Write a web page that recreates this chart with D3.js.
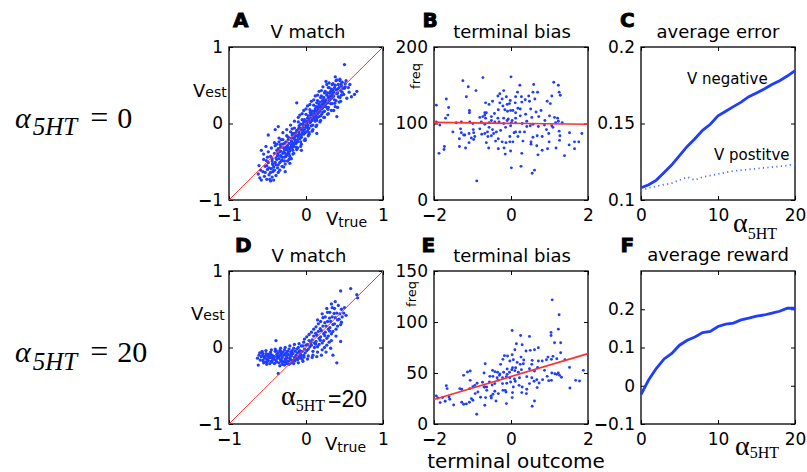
<!DOCTYPE html>
<html>
<head>
<meta charset="utf-8">
<script src="https://cdn.jsdelivr.net/npm/d3@7"></script>
<style>
body { margin: 0; background: #fff; }
svg { font-family: "DejaVu Sans", sans-serif; }
</style>
</head>
<body>
<script>
// ---- data ----
var alphaSteps = d3.range(0, 21);
var errNegative = [0.108,0.110,0.113,0.118,0.123,0.129,0.135,0.140,0.1455,0.1495,0.155,0.158,0.161,0.164,0.1675,0.170,0.1725,0.1755,0.178,0.181,0.1845];
var errPositive = [0.106,0.108,0.109,0.110,0.111,0.113,0.115,0.113,0.115,0.116,0.117,0.118,0.119,0.1195,0.120,0.1205,0.121,0.1215,0.122,0.1225,0.1235];
var avgReward = [-0.023,0.0155,0.0457,0.070,0.0845,0.106,0.119,0.1276,0.139,0.142,0.155,0.161,0.164,0.172,0.177,0.182,0.185,0.190,0.1948,0.2026,0.2026];

var vTicks = [-1, 0, 1];
var biasXTicks = [-2, 0, 2];
var biasYTicksB = [0, 100, 200];
var biasYTicksE = [0, 50, 100, 150];
var alphaTicks = [0, 10, 20];
var errTicks = [0.1, 0.15, 0.2];
var rewardTicks = [-0.1, 0, 0.1, 0.2];

var fitB = [[-2, 101.5], [2, 99]];
var fitE = [[-2, 24], [2, 69]];

// V match, alpha = 0  [Vtrue, Vest]
var matchA = [
[-0.62,-0.66],[-0.60,-0.71],[-0.58,-0.74],[-0.61,-0.55],[-0.58,-0.35],[-0.59,-0.61],
[-0.56,-0.63],[-0.55,-0.47],[-0.54,-0.69],[-0.53,-0.56],[-0.55,-0.40],[-0.52,-0.30],[-0.53,-0.64],
[-0.51,-0.73],[-0.50,-0.60],[-0.49,-0.51],[-0.50,-0.44],[-0.48,-0.67],[-0.49,-0.37],[-0.47,-0.73],[-0.51,-0.55],[-0.49,-0.15],[-0.48,-0.58],
[-0.46,-0.75],[-0.45,-0.59],[-0.44,-0.49],[-0.46,-0.43],[-0.43,-0.63],[-0.45,-0.32],[-0.44,-0.46],[-0.42,-0.74],[-0.43,-0.54],[-0.46,-0.64],[-0.41,-0.39],[-0.44,-0.70],[-0.42,-0.57],
[-0.40,-0.08],[-0.40,-0.51],[-0.39,-0.45],[-0.41,-0.61],[-0.38,-0.35],[-0.40,-0.29],[-0.37,-0.58],[-0.39,-0.68],[-0.38,-0.47],[-0.36,-0.04],[-0.41,-0.25],[-0.37,-0.42],[-0.39,-0.54],[-0.36,-0.64],[-0.38,-0.27],
[-0.35,-0.46],[-0.34,-0.37],[-0.36,-0.54],[-0.33,-0.31],[-0.35,-0.24],[-0.34,-0.61],[-0.32,-0.49],[-0.36,-0.33],[-0.33,-0.42],[-0.35,-0.19],[-0.31,-0.56],[-0.34,-0.51],[-0.32,-0.21],[-0.33,-0.36],[-0.31,-0.44],
[-0.30,-0.39],[-0.29,-0.32],[-0.31,-0.48],[-0.28,-0.26],[-0.30,-0.21],[-0.27,-0.53],[-0.29,-0.37],[-0.28,-0.44],[-0.30,-0.12],[-0.27,-0.63],[-0.26,-0.31],[-0.29,-0.57],[-0.31,-0.27],[-0.27,-0.39],[-0.26,-0.24],[-0.28,-0.49],
[-0.25,-0.34],[-0.24,-0.29],[-0.26,-0.43],[-0.23,-0.21],[-0.25,-0.16],[-0.22,-0.47],[-0.24,-0.32],[-0.23,-0.37],[-0.21,-0.52],[-0.25,-0.08],[-0.22,-0.26],[-0.24,-0.49],[-0.21,-0.34],[-0.19,-0.46],[-0.23,-0.18],[-0.22,-0.40],
[-0.20,-0.31],[-0.19,-0.23],[-0.21,-0.36],[-0.18,-0.15],[-0.20,-0.11],[-0.17,-0.40],[-0.19,-0.28],[-0.18,-0.32],[-0.16,-0.19],[-0.20,-0.02],[-0.17,-0.13],[-0.21,-0.43],[-0.16,-0.27],[-0.18,-0.07],[-0.19,-0.19],[-0.17,-0.35],
[-0.15,-0.25],[-0.14,-0.17],[-0.16,-0.30],[-0.13,-0.12],[-0.15,-0.06],[-0.12,-0.34],[-0.14,-0.22],[-0.13,-0.26],[-0.11,-0.16],[-0.15,0.03],[-0.12,-0.09],[-0.16,-0.39],[-0.12,0.27],[-0.11,-0.21],[-0.14,-0.13],[-0.13,-0.31],
[-0.10,-0.17],[-0.09,-0.11],[-0.11,-0.24],[-0.08,-0.06],[-0.10,0.02],[-0.07,-0.30],[-0.09,-0.14],[-0.08,-0.20],[-0.06,-0.08],[-0.10,0.08],[-0.07,-0.01],[-0.11,-0.32],[-0.06,-0.35],[-0.08,0.11],[-0.09,-0.03],[-0.07,-0.24],
[-0.05,-0.13],[-0.04,-0.05],[-0.06,-0.18],[-0.03,0.02],[-0.05,0.05],[-0.02,-0.22],[-0.04,-0.10],[-0.03,-0.14],[-0.01,-0.02],[-0.05,0.13],[-0.02,0.05],[-0.06,-0.27],[-0.01,-0.22],[-0.03,0.17],[-0.04,-0.01],[-0.02,-0.08],
[0.00,-0.05],[0.01,0.01],[-0.01,-0.12],[0.02,0.07],[0.00,0.12],[0.03,-0.16],[0.01,-0.04],[0.02,-0.10],[0.04,0.04],[0.00,0.19],[0.03,0.10],[-0.01,-0.20],[0.04,-0.12],[0.02,0.23],[0.01,0.03],[0.03,-0.07],
[0.05,0.01],[0.06,0.07],[0.04,-0.06],[0.07,0.13],[0.05,0.18],[0.08,-0.10],[0.06,0.02],[0.07,-0.03],[0.09,0.10],[0.05,0.25],[0.08,0.16],[0.04,-0.14],[0.14,-0.13],[0.07,0.29],[0.06,0.11],[0.08,0.04],
[0.10,0.07],[0.11,0.13],[0.09,-0.02],[0.12,0.19],[0.10,0.24],[0.13,-0.04],[0.11,0.08],[0.12,0.03],[0.14,0.16],[0.10,0.31],[0.13,0.22],[0.09,-0.08],[0.12,0.36],[0.14,0.27],[0.11,0.16],[0.13,0.10],
[0.15,0.13],[0.16,0.19],[0.14,0.04],[0.17,0.25],[0.15,0.30],[0.18,0.02],[0.16,0.14],[0.17,0.09],[0.19,0.22],[0.15,0.37],[0.18,0.28],[0.14,-0.02],[0.19,0.34],[0.17,0.42],[0.16,0.22],[0.18,0.16],
[0.20,0.19],[0.21,0.25],[0.19,0.10],[0.22,0.31],[0.20,0.36],[0.23,0.08],[0.21,0.20],[0.22,0.15],[0.24,0.28],[0.20,0.43],[0.23,0.34],[0.19,0.04],[0.24,0.40],[0.22,0.48],[0.21,0.29],[0.23,0.22],
[0.25,0.23],[0.26,0.31],[0.24,0.16],[0.27,0.37],[0.25,0.42],[0.28,0.12],[0.26,0.26],[0.27,0.21],[0.29,0.34],[0.26,0.55],[0.28,0.40],[0.24,0.08],[0.29,0.47],[0.27,0.51],[0.25,0.30],[0.28,0.27],
[0.30,0.30],[0.31,0.36],[0.29,0.21],[0.32,0.42],[0.30,0.47],[0.33,0.17],[0.31,0.31],[0.32,0.26],[0.34,0.39],[0.30,0.53],[0.33,0.45],[0.29,0.13],[0.34,0.51],[0.31,0.40],[0.33,0.33],
[0.35,0.35],[0.36,0.41],[0.34,0.26],[0.37,0.47],[0.35,0.52],[0.38,0.22],[0.36,0.36],[0.37,0.31],[0.39,0.44],[0.38,0.61],[0.38,0.50],[0.36,0.17],[0.39,0.56],[0.35,0.44],
[0.40,0.09],[0.40,0.39],[0.41,0.45],[0.39,0.30],[0.42,0.51],[0.40,0.57],[0.43,0.28],[0.41,0.40],[0.44,0.58],[0.42,0.35],[0.41,0.21],[0.43,0.47],
[0.45,0.43],[0.46,0.49],[0.44,0.34],[0.47,0.54],[0.45,0.29],[0.48,0.46],[0.46,0.37],[0.44,0.56],[0.47,0.41],
[0.50,0.77],[0.50,0.46],[0.51,0.52],[0.49,0.38],[0.52,0.56],[0.53,0.33],[0.51,0.48],
[0.55,0.47],[0.56,0.41],[0.59,0.35],[0.63,0.38],[0.66,0.42],[0.57,0.51],
[-0.435,-0.525],[-0.365,-0.395],[-0.275,-0.345],[-0.185,-0.245],[-0.095,-0.065],[0.025,-0.025],[0.115,0.045],[0.205,0.125],[0.285,0.185],[0.375,0.265],
[-0.335,-0.275],[-0.245,-0.405],[-0.155,-0.195],[-0.065,-0.155],[0.055,0.145],[0.145,0.075],[0.235,0.265],[0.325,0.355],[-0.515,-0.485],[0.455,0.515]
];

// V match, alpha = 20
var matchD = [
[-0.63,-0.14],[-0.61,-0.10],[-0.62,-0.23],[-0.60,-0.07],
[-0.58,-0.12],[-0.56,-0.17],[-0.57,-0.05],[-0.55,-0.20],[-0.56,-0.10],[-0.54,-0.14],
[-0.52,-0.08],[-0.51,-0.15],[-0.53,-0.19],[-0.50,-0.11],[-0.52,-0.04],[-0.49,-0.17],[-0.51,-0.22],[-0.50,-0.09],[-0.48,-0.13],
[-0.47,-0.13],[-0.46,-0.06],[-0.45,-0.18],[-0.44,-0.10],[-0.47,-0.21],[-0.45,-0.03],[-0.43,-0.15],[-0.46,-0.09],[-0.44,-0.19],[-0.42,-0.12],
[-0.41,-0.12],[-0.40,-0.05],[-0.39,-0.17],[-0.38,-0.09],[-0.41,-0.21],[-0.39,0.09],[-0.37,-0.14],[-0.40,-0.02],[-0.38,-0.19],[-0.36,-0.34],[-0.36,-0.07],[-0.37,-0.11],
[-0.35,-0.11],[-0.34,-0.04],[-0.33,-0.16],[-0.32,-0.08],[-0.35,-0.20],[-0.33,-0.01],[-0.31,-0.13],[-0.34,-0.24],[-0.32,-0.18],[-0.30,-0.06],[-0.31,-0.22],[-0.33,-0.10],
[-0.29,-0.10],[-0.28,-0.03],[-0.27,-0.15],[-0.26,-0.07],[-0.29,-0.19],[-0.27,0.00],[-0.25,-0.12],[-0.28,-0.23],[-0.26,-0.17],[-0.24,-0.05],[-0.25,-0.21],[-0.27,-0.09],
[-0.23,-0.09],[-0.22,-0.02],[-0.21,-0.14],[-0.20,-0.06],[-0.23,-0.18],[-0.21,0.02],[-0.19,-0.11],[-0.22,-0.22],[-0.20,-0.16],[-0.18,-0.04],[-0.19,-0.20],
[-0.17,-0.08],[-0.16,-0.01],[-0.15,-0.13],[-0.14,-0.05],[-0.17,-0.17],[-0.15,0.04],[-0.13,-0.10],[-0.16,-0.21],[-0.14,-0.15],[-0.12,-0.02],
[-0.11,-0.07],[-0.10,0.00],[-0.09,-0.12],[-0.08,-0.04],[-0.11,-0.16],[-0.09,0.05],[-0.07,-0.09],[-0.10,-0.20],[-0.08,-0.14],[-0.06,0.02],
[-0.05,-0.05],[-0.04,0.02],[-0.03,-0.10],[-0.02,-0.02],[-0.05,-0.15],[-0.03,0.07],[-0.01,-0.07],[-0.04,-0.18],[-0.02,0.11],[0.00,0.03],
[-0.595,-0.165],[-0.535,-0.115],[-0.475,-0.085],[-0.415,-0.155],[-0.355,-0.135],[-0.305,-0.175],[-0.245,-0.135],[-0.185,-0.075],[-0.125,-0.135],[-0.065,-0.115],
[-0.565,-0.075],[-0.505,-0.185],[-0.445,-0.135],[-0.385,-0.045],[-0.325,-0.055],[-0.265,-0.195],[-0.205,-0.105],[-0.145,-0.175],[-0.085,-0.055],[-0.025,-0.125],
[0.01,-0.04],[0.02,0.04],[0.03,-0.11],[0.04,0.09],[0.01,0.14],[0.03,-0.02],[0.05,0.01],[0.02,-0.15],[0.04,0.17],
[0.07,0.03],[0.08,0.10],[0.09,-0.05],[0.10,0.15],[0.07,0.20],[0.09,-0.10],[0.11,0.06],[0.08,-0.13],[0.10,0.24],[0.11,0.00],
[0.13,0.08],[0.14,0.16],[0.15,0.01],[0.16,0.21],[0.13,0.27],[0.15,-0.06],[0.17,0.12],[0.14,-0.12],[0.16,0.31],[0.17,0.04],[0.15,0.36],
[0.19,0.14],[0.20,0.22],[0.21,0.06],[0.22,0.28],[0.19,0.34],[0.21,-0.03],[0.23,0.18],[0.20,-0.10],[0.22,0.39],[0.23,0.09],[0.21,0.44],[0.24,0.00],
[0.25,0.20],[0.26,0.28],[0.27,0.12],[0.28,0.34],[0.25,0.40],[0.27,0.03],[0.29,0.24],[0.26,-0.06],[0.28,0.46],[0.29,0.15],[0.27,0.51],[0.30,0.07],
[0.31,0.26],[0.32,0.34],[0.33,0.18],[0.34,0.40],[0.31,0.46],[0.33,0.09],[0.35,0.30],[0.32,-0.01],[0.34,0.52],[0.35,0.21],[0.33,0.57],[0.35,-0.10],
[0.37,0.31],[0.38,0.39],[0.39,0.24],[0.40,0.45],[0.37,0.51],[0.39,0.15],[0.41,0.36],[0.40,-0.20],[0.42,0.55],[0.41,0.28],[0.38,0.60],
[0.43,0.37],[0.44,0.44],[0.45,0.30],[0.46,0.50],[0.45,0.74],[0.47,0.40],[0.45,0.08],[0.46,0.33],
[0.49,0.45],[0.50,0.52],[0.52,0.42],[0.58,0.77],[0.66,0.69],[0.67,0.65],
[0.065,0.065],[0.125,0.185],[0.185,0.245],[0.245,0.325],[0.305,0.385],[0.365,0.445],[0.125,0.045],[0.185,0.095],[0.245,0.155],[0.305,0.215]
];

// terminal bias, alpha = 0  [outcome, freq]
var biasB = [
[-1.25,156],[-0.73,160],[0.00,161],[-1.11,148],[-0.91,143],[-1.16,135],[-1.68,132],[-1.94,124],[-1.62,121],[-1.64,111],[-1.70,107],
[0.23,150],[0.59,151],[1.11,154],[1.23,150],[-0.19,143],[-0.29,139],[-0.34,136],[-0.23,132],[-0.12,135],[-0.02,130],[0.11,127],
[-0.10,125],[-0.04,126],[0.17,141],[0.12,135],[0.27,135],[0.46,136],[0.57,141],[0.69,141],[0.62,132],[0.37,131],[0.48,129],[0.28,128],
[0.24,119],[0.18,120],[0.12,114],[0.05,117],[-0.01,117],[-0.09,116],[-0.16,118],[-0.21,123],[-0.33,118],[-0.29,127],[-0.66,127],
[-0.57,125],[-0.48,129],[-1.08,117],[-1.08,114],[-0.68,114],[-0.64,114],[-0.68,111],[-0.73,109],[-0.81,108],[-0.66,107],[-0.51,109],
[-0.43,113],[-0.34,107],[-0.19,107],[-0.07,106],[0.03,104],[0.12,107],[0.24,110],[0.38,112],[0.51,119],[0.65,115],[0.78,117],
[0.94,129],[1.02,126],[1.06,136],[1.25,141],[1.28,137],[1.00,110],[1.13,108],[1.21,107],[1.23,103],[1.33,101],[1.16,101],[1.06,97],
[0.88,104],[0.72,109],[0.54,108],[0.41,103],[0.29,100],[0.12,101],[0.01,101],[-0.10,104],[-0.19,100],[-0.31,102],[-0.42,102],
[-0.51,104],[-0.57,101],[-0.68,99],[-0.77,102],[-0.99,100],[-1.07,102],[-1.29,102],[-1.42,101],[-1.85,98],[-1.94,102],
[-1.51,89],[-1.31,93],[-1.29,88],[-1.20,85],[-1.09,87],[-0.98,92],[-0.97,88],[-0.81,93],[-0.68,87],[-0.61,89],[-0.57,95],[-0.48,92],
[-0.45,87],[-0.38,89],[-0.27,91],[-0.14,95],[-0.01,97],[0.08,88],[0.12,89],[0.23,89],[0.35,89],[0.41,96],[0.50,97],[0.57,99],
[0.71,96],[0.87,98],[0.92,92],[0.98,87],[1.09,95],[1.25,90],[1.27,84],[1.52,88],[1.84,87],[-1.23,85],[-1.34,80],[-1.03,81],[-0.97,79],
[-1.09,75],[-0.94,83],[-0.76,86],[-0.60,83],[-0.51,84],[-0.40,77],[-0.33,80],[-0.23,76],[-0.13,75],[-0.03,83],[0.05,76],[-0.03,76],
[0.18,83],[0.31,77],[0.52,76],[0.57,82],[0.68,84],[0.81,83],[0.99,76],[1.26,78],[1.51,72],[1.65,76],[1.76,76],[-1.34,70],[-1.18,68],
[-1.73,70],[-1.74,66],[-1.87,61],[-0.64,75],[-0.58,68],[-0.33,67],[-0.18,68],[-0.15,60],[-0.01,64],[0.28,61],[0.52,73],[0.67,71],
[0.81,65],[0.95,67],[1.17,68],[1.39,58],[1.65,67],[0.70,59],[0.01,42],[0.26,44],[0.61,39],[0.55,35],[-0.89,25]
];

// terminal bias, alpha = 20
var biasE = [
[1.07,121.7],[1.25,107.1],[1.23,93.0],[0.03,91.7],[1.04,89.8],[1.04,86.8],[0.25,86.8],[0.48,85.9],[0.14,78.7],[0.29,77.7],
[1.13,79.7],[1.29,79.7],[0.10,72.8],[0.39,71.5],[0.50,72.2],[0.61,72.8],[0.71,74.8],[0.03,67.9],[0.96,65.6],[1.29,69.9],
[1.09,66.3],[-0.17,67.0],[-0.09,66.6],[-0.21,63.4],[0.26,65.6],[0.33,62.7],[0.55,62.4],[0.71,61.7],[0.81,61.7],[0.92,63.0],
[1.05,63.4],[1.19,64.0],[1.40,63.0],[1.52,55.5],[1.88,52.6],[-0.67,59.1],[-0.27,58.5],[-0.03,61.7],[0.06,63.0],[0.16,60.4],
[0.24,58.5],[0.32,59.1],[0.54,58.5],[0.69,55.5],[0.04,55.2],[0.12,55.2],[-0.10,53.9],[0.02,53.3],[0.10,52.3],[0.19,50.7],
[0.27,53.3],[0.48,54.2],[0.61,52.0],[1.19,48.7],[1.26,47.7],[1.23,50.0],[1.06,50.0],[0.87,52.6],[-1.13,51.0],[-1.06,52.0],
[-0.48,52.6],[-0.42,51.3],[-0.35,50.7],[-0.29,49.0],[-0.19,50.7],[-0.10,48.7],[-0.04,50.7],[-0.70,50.0],[-0.55,46.7],[-0.47,46.7],
[-0.36,45.4],[-0.30,47.7],[-0.22,45.4],[-0.12,46.4],[-0.03,45.4],[0.09,44.1],[0.22,45.4],[0.41,46.4],[0.54,45.4],[0.67,43.5],
[0.82,43.5],[0.94,46.7],[1.05,42.8],[1.14,49.3],[1.31,45.8],[1.68,42.8],[1.78,42.2],[1.53,35.3],[-1.23,47.7],[-1.06,42.8],
[-0.94,37.9],[-0.99,36.6],[-0.88,39.9],[-0.74,40.9],[-0.70,36.3],[-0.63,36.3],[-0.56,41.2],[-0.49,38.3],[-0.42,39.6],[-0.34,42.8],
[-0.22,39.6],[-0.11,39.9],[-0.01,41.2],[0.11,41.9],[0.06,36.3],[0.21,37.9],[0.29,36.3],[0.41,34.0],[0.48,39.6],[0.60,41.9],
[0.68,35.7],[0.73,40.2],[0.98,42.5],[-1.68,37.6],[-1.66,34.7],[-1.33,34.7],[-1.28,34.0],[-1.07,34.7],[-0.93,29.8],[-0.86,31.4],
[-0.68,36.3],[-0.63,33.0],[-0.79,26.2],[-0.66,25.9],[-0.52,27.2],[-0.47,29.1],[-0.42,32.1],[-0.33,29.8],[-0.21,33.0],[-0.15,33.0],
[-0.13,31.4],[0.03,25.9],[0.04,30.8],[0.28,30.8],[0.40,29.8],[0.61,22.6],[0.55,17.4],[-1.94,27.5],[-1.90,25.5],[-1.78,25.9],
[-1.61,26.5],[-1.59,24.2],[-1.84,21.0],[-1.71,22.3],[-1.49,18.7],[-1.28,21.3],[-1.23,19.4],[-1.16,19.7],[-1.08,21.3],[-1.03,24.9],
[-0.99,23.3],[-0.51,25.5],[-0.68,18.4],[-0.39,22.6],[-0.12,20.0],[-0.89,9.6]
];

// ---- layout ----
var W = 807, H = 472;
var pw = 154, ph = 153;
var colX = [229, 434, 641];
var rowY = [47, 271];
var blue = "#1f3dff", red = "#ff3030";

var svg = d3.select("body").append("svg")
    .attr("width", W)
    .attr("height", H);

function fixMinus(sel) {
    sel.each(function() {
        var s = this.textContent;
        if (s.charAt(0) === "\u2212" || s.charAt(0) === "-") {
            var t = d3.select(this).text(null);
            t.append("tspan").attr("font-weight", "bold").text("\u2212");
            t.append("tspan").text(s.slice(1));
        }
    });
}

function panel(left, top, xd, yd, xt, yt) {
    var x = d3.scaleLinear().domain(xd).range([left, left + pw]);
    var y = d3.scaleLinear().domain(yd).range([top + ph, top]);
    var g = svg.append("g");

    var fmt = d3.format("");
    var axes = [
        [d3.axisBottom(x).tickValues(xt).tickFormat(fmt), top + ph, 0, true],
        [d3.axisTop(x).tickValues(xt).tickFormat(""), top, 0, false],
        [d3.axisLeft(y).tickValues(yt).tickFormat(fmt), 0, left, true],
        [d3.axisRight(y).tickValues(yt).tickFormat(""), 0, left + pw, false]
    ];
    axes.forEach(function(a) {
        var ax = g.append("g")
            .attr("transform", "translate(" + a[2] + "," + a[1] + ")")
            .call(a[0].tickSizeInner(-4).tickSizeOuter(0).tickPadding(a[1] ? 9 : 6));
        ax.select(".domain").remove();
        ax.selectAll("line").attr("stroke", "#000").attr("stroke-width", 1);
        ax.attr("font-family", null).attr("font-size", null);
        ax.selectAll("text").attr("font-size", 17).attr("fill", "#000");
        if (a[3]) fixMinus(ax.selectAll("text"));
    });

    g.append("rect")
        .attr("x", left).attr("y", top)
        .attr("width", pw).attr("height", ph)
        .attr("fill", "none").attr("stroke", "#000").attr("stroke-width", 1.3);

    return { g: g, x: x, y: y };
}

function dots(p, data, r) {
    p.g.append("g").selectAll("circle")
        .data(data)
        .join("circle")
        .attr("cx", function(d) { return p.x(d[0]); })
        .attr("cy", function(d) { return p.y(d[1]); })
        .attr("r", r)
        .attr("fill", blue);
}

function fitLine(p, data, w) {
    p.g.append("path")
        .datum(data)
        .attr("d", d3.line().x(function(d) { return p.x(d[0]); }).y(function(d) { return p.y(d[1]); }))
        .attr("fill", "none").attr("stroke", red).attr("stroke-width", w);
}

function label(x, y, str, size, opts) {
    opts = opts || {};
    return svg.append("text")
        .attr("x", x).attr("y", y)
        .attr("font-size", size)
        .attr("font-family", opts.family || null)
        .attr("font-weight", opts.weight || null)
        .attr("font-style", opts.style || null)
        .attr("text-anchor", opts.anchor || "start")
        .text(str);
}

// ---- panels ----
var pA = panel(colX[0], rowY[0], [-1, 1], [-1, 1], vTicks, vTicks);
dots(pA, matchA, 1.65);
fitLine(pA, [[-1, -1], [1, 1]], 1);

var pB = panel(colX[1], rowY[0], [-2, 2], [0, 200], biasXTicks, biasYTicksB);
dots(pB, biasB, 1.45);
fitLine(pB, fitB, 1.7);

var pC = panel(colX[2], rowY[0], [0, 20], [0.1, 0.2], alphaTicks, errTicks);
pC.g.append("path")
    .datum(errPositive)
    .attr("d", d3.line().x(function(d, i) { return pC.x(alphaSteps[i]); }).y(function(d) { return pC.y(d); }))
    .attr("fill", "none").attr("stroke", "#4f6fff").attr("stroke-width", 1.8)
    .attr("stroke-dasharray", "1.2,3.3");
pC.g.append("path")
    .datum(errNegative)
    .attr("d", d3.line().x(function(d, i) { return pC.x(alphaSteps[i]); }).y(function(d) { return pC.y(d); }))
    .attr("fill", "none").attr("stroke", blue).attr("stroke-width", 2.8);

var pD = panel(colX[0], rowY[1], [-1, 1], [-1, 1], vTicks, vTicks);
dots(pD, matchD, 1.65);
fitLine(pD, [[-1, -1], [1, 1]], 1);

var pE = panel(colX[1], rowY[1], [-2, 2], [0, 150], biasXTicks, biasYTicksE);
dots(pE, biasE, 1.45);
fitLine(pE, fitE, 1.7);

var pF = panel(colX[2], rowY[1], [0, 20], [-0.1, 0.3], alphaTicks, rewardTicks);
pF.g.append("path")
    .datum(avgReward)
    .attr("d", d3.line().x(function(d, i) { return pF.x(alphaSteps[i]); }).y(function(d) { return pF.y(d); }))
    .attr("fill", "none").attr("stroke", blue).attr("stroke-width", 2.8);

// ---- panel letters and titles ----
var letters = [["A", 233, 27], ["B", 422.5, 27], ["C", 620, 27], ["D", 235, 251.5], ["E", 421.5, 251.5], ["F", 620.5, 251.5]];
letters.forEach(function(l) {
    label(l[1], l[2], l[0], 20, { weight: "bold" })
        .attr("stroke", "#000").attr("stroke-width", 0.9);
});
label(308, 38, "V match", 18, { anchor: "middle" });
label(512, 38, "terminal bias", 18, { anchor: "middle" });
label(718, 38, "average error", 18, { anchor: "middle" });
label(309, 262, "V match", 18, { anchor: "middle" });
label(512, 262, "terminal bias", 18, { anchor: "middle" });
label(718, 261, "average reward", 18, { anchor: "middle" });

// ---- axis labels ----
function vLabel(x, y, sub, subDy) {
    var t = svg.append("text").attr("x", x).attr("y", y).attr("font-size", 18);
    t.append("tspan").text("V");
    t.append("tspan").attr("font-size", 14).attr("dy", subDy).text(sub);
}
vLabel(193, 97, "est", 0);
vLabel(191, 320, "est", 0);
vLabel(326, 225, "true", 2);
vLabel(325, 450, "true", 2);

svg.append("text").attr("transform", "translate(420,76) rotate(-90)")
    .attr("text-anchor", "middle").attr("font-size", 13).text("freq");
svg.append("text").attr("transform", "translate(416,294) rotate(-90)")
    .attr("text-anchor", "middle").attr("font-size", 13).text("freq");

label(516, 468, "terminal outcome", 20, { anchor: "middle" });

function alphaLabel(x, y, size, subSize, subDy) {
    var t = svg.append("text").attr("x", x).attr("y", y)
        .attr("font-family", "Liberation Serif").attr("font-size", size);
    t.append("tspan").text("\u03b1");
    t.append("tspan").attr("font-size", subSize).attr("dy", subDy).text("5HT");
    return t;
}
alphaLabel(733, 232, 28, 16, 7);
alphaLabel(735, 455, 28, 16, 3);
alphaLabel(281, 405, 28, 16, 6);
label(328, 406.5, "=20", 23, { family: "Liberation Sans" });

label(687, 84, "V negative", 15);
label(714, 160, "V postitve", 15);

// ---- row labels ----
function rowLabel(y, val) {
    var t = svg.append("text").attr("x", 15).attr("y", y)
        .attr("font-family", "Liberation Serif").attr("font-size", 30);
    t.append("tspan").attr("font-style", "italic").text("\u03b1");
    t.append("tspan").attr("font-style", "italic").attr("font-size", 25).attr("dx", 2).attr("dy", 7.5).text("5HT");
    t.append("tspan").attr("dy", -7.5).attr("dx", 13).attr("font-size", 32).text("=");
    t.append("tspan").attr("dx", 9).text(val);
}
rowLabel(127.5, "0");
rowLabel(362, "20");
</script>
</body>
</html>
